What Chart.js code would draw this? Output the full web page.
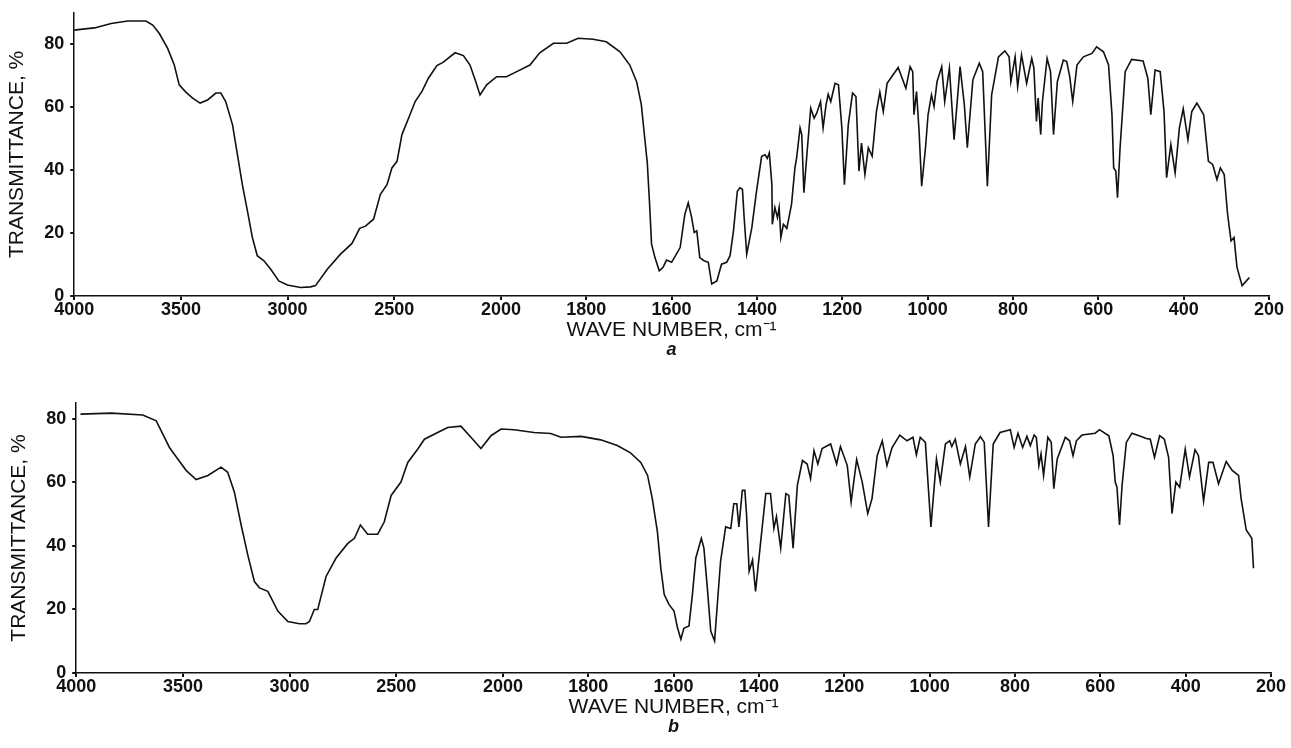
<!DOCTYPE html>
<html>
<head>
<meta charset="utf-8">
<script src="https://cdn.jsdelivr.net/npm/chart.js@4.4.1/dist/chart.umd.min.js"></script>
<style>
  html, body { margin: 0; padding: 0; background: #fff; overflow: hidden; }
  #wrap { position: relative; width: 1291px; height: 748px; overflow: hidden; }
  canvas { position: absolute; left: 0; }
  #chartA { top: -4px; }
  #chartB { top: 377px; }
</style>
</head>
<body>
<div id="wrap">
  <canvas id="chartA" width="1291" height="366"></canvas>
  <canvas id="chartB" width="1291" height="362"></canvas>
</div>
<script>
// ============================================================
// Data
// ============================================================

const xTicks = [4000, 3500, 3000, 2500, 2000, 1800, 1600, 1400, 1200, 1000, 800, 600, 400, 200];
const yTicks = [0, 20, 40, 60, 80];

// spectrum a
const waveA = [
  4000, 3960, 3905, 3827, 3749, 3664, 3632, 3601, 3562, 3531, 3508, 3477, 3445, 3410, 3375, 3336,
  3313, 3290, 3258, 3235, 3212, 3188, 3165, 3142, 3111, 3079, 3041, 3001, 2939, 2892, 2869, 2814,
  2752, 2698, 2662, 2635, 2597, 2565, 2534, 2511, 2487, 2464, 2433, 2402, 2370, 2340, 2300, 2270,
  2215, 2176, 2145, 2121, 2098, 2067, 2020, 1987, 1963, 1932, 1909, 1877, 1846, 1819, 1784, 1753,
  1721, 1698, 1682, 1671, 1663, 1657, 1652, 1647, 1639, 1629, 1620, 1612, 1600, 1580, 1569, 1561,
  1553, 1547, 1541, 1534, 1524, 1514, 1506, 1494, 1483, 1471, 1463, 1455, 1446, 1440, 1434, 1430,
  1424, 1412, 1401, 1389, 1381, 1376, 1371, 1365, 1364, 1358, 1352, 1348, 1344, 1338, 1330, 1319,
  1311, 1307, 1299, 1295, 1290, 1283, 1274, 1266, 1260, 1251, 1245, 1238, 1233, 1227, 1217, 1209,
  1201, 1195, 1186, 1176, 1168, 1161, 1155, 1147, 1139, 1130, 1120, 1112, 1104, 1095, 1081, 1069,
  1061, 1051, 1041, 1035, 1032, 1026, 1020, 1014, 1005, 999, 991, 985, 978, 967, 960, 949,
  938, 924, 914, 907, 894, 879, 871, 860, 850, 834, 819, 809, 805, 795, 789, 780,
  768, 756, 751, 745, 741, 735, 731, 720, 712, 705, 696, 682, 674, 667, 660, 650,
  635, 615, 604, 588, 576, 568, 564, 559, 555, 549, 537, 522, 495, 484, 477, 467,
  455, 446, 440, 430, 420, 410, 401, 390, 381, 369, 353, 342, 332, 322, 314, 305,
  297, 289, 282, 275, 263, 253, 246
];
const transA = [
  84.5, 84.8, 85.2, 86.6, 87.4, 87.4, 86.1, 83.4, 78.7, 73.4, 67.1, 64.8, 62.9, 61.3, 62.3, 64.5,
  64.5, 61.8, 54.4, 44.9, 35.4, 27.0, 18.6, 12.8, 11.2, 8.5, 4.8, 3.5, 2.7, 2.9, 3.3, 8.5,
  13.3, 16.7, 21.5, 22.2, 24.4, 32.3, 35.4, 40.7, 42.8, 51.3, 56.5, 61.8, 65.0, 69.2, 73.2, 74.3,
  77.3, 76.4, 73.4, 68.7, 63.9, 67.1, 69.7, 69.7, 71.3, 73.4, 77.3, 80.3, 80.3, 81.9, 81.6, 80.8,
  77.6, 73.4, 68.1, 60.8, 50.2, 42.3, 30.2, 16.5, 12.2, 8.0, 9.1, 11.4, 10.7, 15.4, 25.9, 29.6,
  24.9, 20.2, 20.7, 12.2, 11.2, 10.7, 3.8, 4.8, 10.1, 10.7, 12.8, 20.7, 33.3, 34.4, 33.9, 24.9,
  13.3, 21.7, 33.3, 44.4, 44.9, 43.7, 45.5, 35.4, 22.8, 28.1, 24.9, 28.1, 18.6, 22.8, 21.5, 29.1,
  40.7, 43.9, 53.4, 51.3, 32.8, 44.9, 59.7, 56.5, 58.1, 61.8, 53.4, 60.8, 64.1, 61.8, 67.6, 67.1,
  53.4, 35.4, 54.4, 64.5, 63.4, 39.7, 48.6, 38.6, 47.1, 44.4, 58.6, 64.8, 58.6, 67.6, 70.3, 72.6,
  69.7, 66.0, 72.9, 71.3, 57.6, 65.0, 52.3, 34.9, 47.1, 57.6, 63.9, 60.2, 68.1, 72.9, 61.8, 72.4,
  49.7, 72.9, 60.8, 47.1, 68.7, 74.0, 71.3, 34.9, 63.9, 76.0, 77.9, 76.0, 68.1, 76.0, 66.5, 76.6,
  67.6, 75.5, 72.4, 55.5, 62.9, 51.3, 61.8, 75.5, 71.3, 51.3, 68.1, 75.0, 74.5, 69.7, 61.8, 73.4,
  76.0, 77.1, 79.2, 77.6, 73.4, 57.6, 40.7, 39.7, 31.2, 47.1, 71.3, 75.2, 74.7, 69.2, 57.6, 71.8,
  71.3, 58.6, 37.6, 48.1, 39.1, 53.4, 59.5, 49.7, 58.6, 61.3, 57.6, 42.8, 41.8, 37.0, 40.7, 38.6,
  25.9, 17.5, 18.6, 9.1, 3.3, 4.8, 5.9
];

// spectrum b
const waveB = [
  3980, 3836, 3688, 3625, 3594, 3563, 3524, 3485, 3438, 3383, 3321, 3290, 3259, 3227, 3196, 3165,
  3141, 3102, 3055, 3008, 2954, 2923, 2907, 2884, 2868, 2829, 2782, 2727, 2696, 2668, 2634, 2587,
  2556, 2524, 2478, 2446, 2399, 2368, 2306, 2259, 2197, 2150, 2103, 2056, 2009, 1974, 1927, 1888,
  1864, 1817, 1771, 1732, 1701, 1677, 1661, 1650, 1638, 1630, 1622, 1611, 1599, 1591, 1583, 1576,
  1564, 1556, 1548, 1535, 1529, 1521, 1513, 1504, 1497, 1490, 1478, 1466, 1459, 1452, 1447, 1439,
  1433, 1429, 1423, 1415, 1408, 1396, 1384, 1373, 1365, 1359, 1349, 1337, 1330, 1320, 1310, 1298,
  1287, 1279, 1271, 1262, 1252, 1232, 1218, 1209, 1193, 1184, 1171, 1158, 1145, 1135, 1123, 1111,
  1100, 1088, 1070, 1053, 1039, 1031, 1022, 1010, 997, 984, 975, 963, 953, 948, 940, 928,
  916, 906, 893, 881, 872, 862, 851, 835, 811, 802, 793, 782, 772, 764, 755, 750,
  744, 739, 733, 723, 715, 709, 701, 682, 672, 664, 656, 643, 612, 602, 580, 570,
  565, 561, 555, 549, 539, 526, 506, 492, 483, 473, 461, 450, 440, 432, 423, 414,
  401, 391, 378, 370, 358, 346, 336, 323, 305, 291, 276, 270, 258, 245, 241
];
const transB = [
  81.5, 81.8, 81.2, 79.4, 75.2, 71.0, 67.4, 63.8, 60.9, 62.2, 64.8, 63.2, 57.0, 46.6, 37.2, 28.8,
  26.8, 25.7, 19.5, 16.2, 15.5, 15.5, 16.2, 20.0, 20.0, 30.4, 36.2, 40.8, 42.4, 46.6, 43.7, 43.7,
  47.6, 55.9, 60.1, 66.3, 70.5, 73.6, 75.7, 77.3, 77.7, 74.2, 70.7, 74.7, 76.8, 76.6, 75.7, 75.4,
  74.2, 74.5, 73.4, 71.6, 69.3, 66.3, 62.2, 54.9, 44.5, 33.0, 24.7, 21.6, 19.5, 14.3, 10.6, 14.1,
  14.8, 24.7, 36.2, 42.4, 39.3, 26.8, 13.2, 10.1, 22.6, 35.1, 46.0, 45.5, 53.3, 53.3, 46.0, 57.5,
  57.5, 49.7, 32.0, 35.6, 25.7, 41.3, 56.5, 56.5, 45.5, 49.2, 39.3, 56.5, 55.9, 39.3, 59.1, 66.9,
  65.8, 61.2, 70.0, 65.8, 70.7, 72.1, 65.8, 71.3, 65.3, 53.8, 67.2, 60.1, 50.2, 54.9, 68.4, 73.1,
  65.3, 71.0, 74.9, 73.1, 74.2, 68.7, 74.2, 72.6, 46.0, 67.4, 60.1, 72.1, 73.1, 71.3, 73.6, 65.8,
  71.3, 61.7, 72.1, 74.4, 72.6, 46.0, 72.1, 75.7, 76.6, 71.0, 75.5, 71.0, 74.5, 71.6, 74.9, 74.2,
  65.3, 69.0, 62.2, 74.2, 72.6, 58.0, 67.4, 74.2, 73.1, 68.4, 73.1, 74.9, 75.5, 76.6, 74.7, 68.4,
  60.1, 58.5, 46.6, 59.1, 72.6, 75.5, 74.5, 73.8, 73.6, 67.9, 74.7, 73.6, 67.9, 50.2, 60.1, 58.5,
  70.5, 61.7, 70.3, 68.4, 54.1, 66.3, 66.3, 59.6, 66.6, 63.8, 62.2, 54.9, 45.0, 42.4, 33.0
];

// ============================================================
// Wave number scale: the chart paper runs at half scale above 2000
// ============================================================

const BREAK = 2000;

function fold(v) { return v > BREAK ? BREAK + (v - BREAK) / 2 : v; }
function unfold(u) { return u > BREAK ? BREAK + (u - BREAK) * 2 : u; }

class WaveScale extends Chart.LinearScale {
  getPixelForValue(value) {
    if (value === null || value === undefined) return NaN;
    const hi = fold(this.max), lo = fold(this.min);
    return this.getPixelForDecimal((hi - fold(value)) / (hi - lo));
  }
  getValueForPixel(pixel) {
    const hi = fold(this.max), lo = fold(this.min);
    return unfold(hi - this.getDecimalForPixel(pixel) * (hi - lo));
  }
}
WaveScale.id = 'wave';
WaveScale.defaults = Chart.LinearScale.defaults;
Chart.register(WaveScale);

// ============================================================
// Rendering
// ============================================================

const FONT = '"Liberation Sans", Arial, Helvetica, sans-serif';

function makeChart(id, waves, trans, yMax, tag, pad) {
  const points = waves.map((w, i) => ({ x: w, y: trans[i] }));
  return new Chart(document.getElementById(id), {
    type: 'line',
    data: {
      datasets: [{
        data: points,
        borderColor: '#111',
        borderWidth: 1.6,
        pointRadius: 0,
        tension: 0,
        fill: false
      }]
    },
    options: {
      responsive: false,
      animation: false,
      devicePixelRatio: 1,
      layout: { padding: pad },
      plugins: {
        legend: { display: false },
        tooltip: { enabled: false },
        // axis caption, kept to the plot width like the x axis
        title: {
          display: true,
          position: 'bottom',
          fullSize: false,
          text: 'WAVE NUMBER, cm\u207B\u00B9',
          color: '#111',
          weight: 1000,
          font: { family: FONT, size: 21, weight: 'normal', lineHeight: 1 },
          padding: { top: 0, bottom: 0 }
        },
        // panel letter under the caption
        subtitle: {
          display: true,
          position: 'bottom',
          fullSize: false,
          text: tag,
          color: '#111',
          weight: 2000,
          font: { family: FONT, size: 18, weight: 'bold', style: 'italic', lineHeight: 1 },
          padding: { top: 0, bottom: 0 }
        }
      },
      scales: {
        x: {
          type: 'wave',
          min: 200,
          max: 4000,
          bounds: 'data',
          afterBuildTicks: (scale) => { scale.ticks = xTicks.map(v => ({ value: v })); },
          ticks: {
            autoSkip: false,
            maxRotation: 0,
            padding: 1,
            color: '#111',
            font: { family: FONT, size: 18, weight: 'bold', lineHeight: 1 },
            callback: (v) => String(v)
          },
          grid: { drawOnChartArea: false, drawTicks: true, tickLength: 4, color: '#111', lineWidth: 2 },
          border: { color: '#111', width: 1.5 }
        },
        y: {
          min: 0,
          max: yMax,
          afterBuildTicks: (scale) => { scale.ticks = yTicks.map(v => ({ value: v })); },
          ticks: {
            padding: 6,
            color: '#111',
            font: { family: FONT, size: 18, weight: 'bold' },
            callback: (v) => String(v)
          },
          title: {
            display: true,
            text: 'TRANSMITTANCE, %',
            color: '#111',
            font: { family: FONT, size: 21, weight: 'normal' },
            padding: { top: 4, bottom: 8 }
          },
          grid: { drawOnChartArea: false, drawTicks: true, tickLength: 4, color: '#111', lineWidth: 2 },
          border: { color: '#111', width: 1.5 }
        }
      }
    }
  });
}

function init() {
  makeChart('chartA', waveA, transA, 90, 'a', { top: 12, left: 1, right: 22, bottom: 3 });
  makeChart('chartB', waveB, transB, 85, 'b', { top: 26, left: 3, right: 20, bottom: 3 });
}

document.addEventListener('DOMContentLoaded', init);
</script>
</body>
</html>
